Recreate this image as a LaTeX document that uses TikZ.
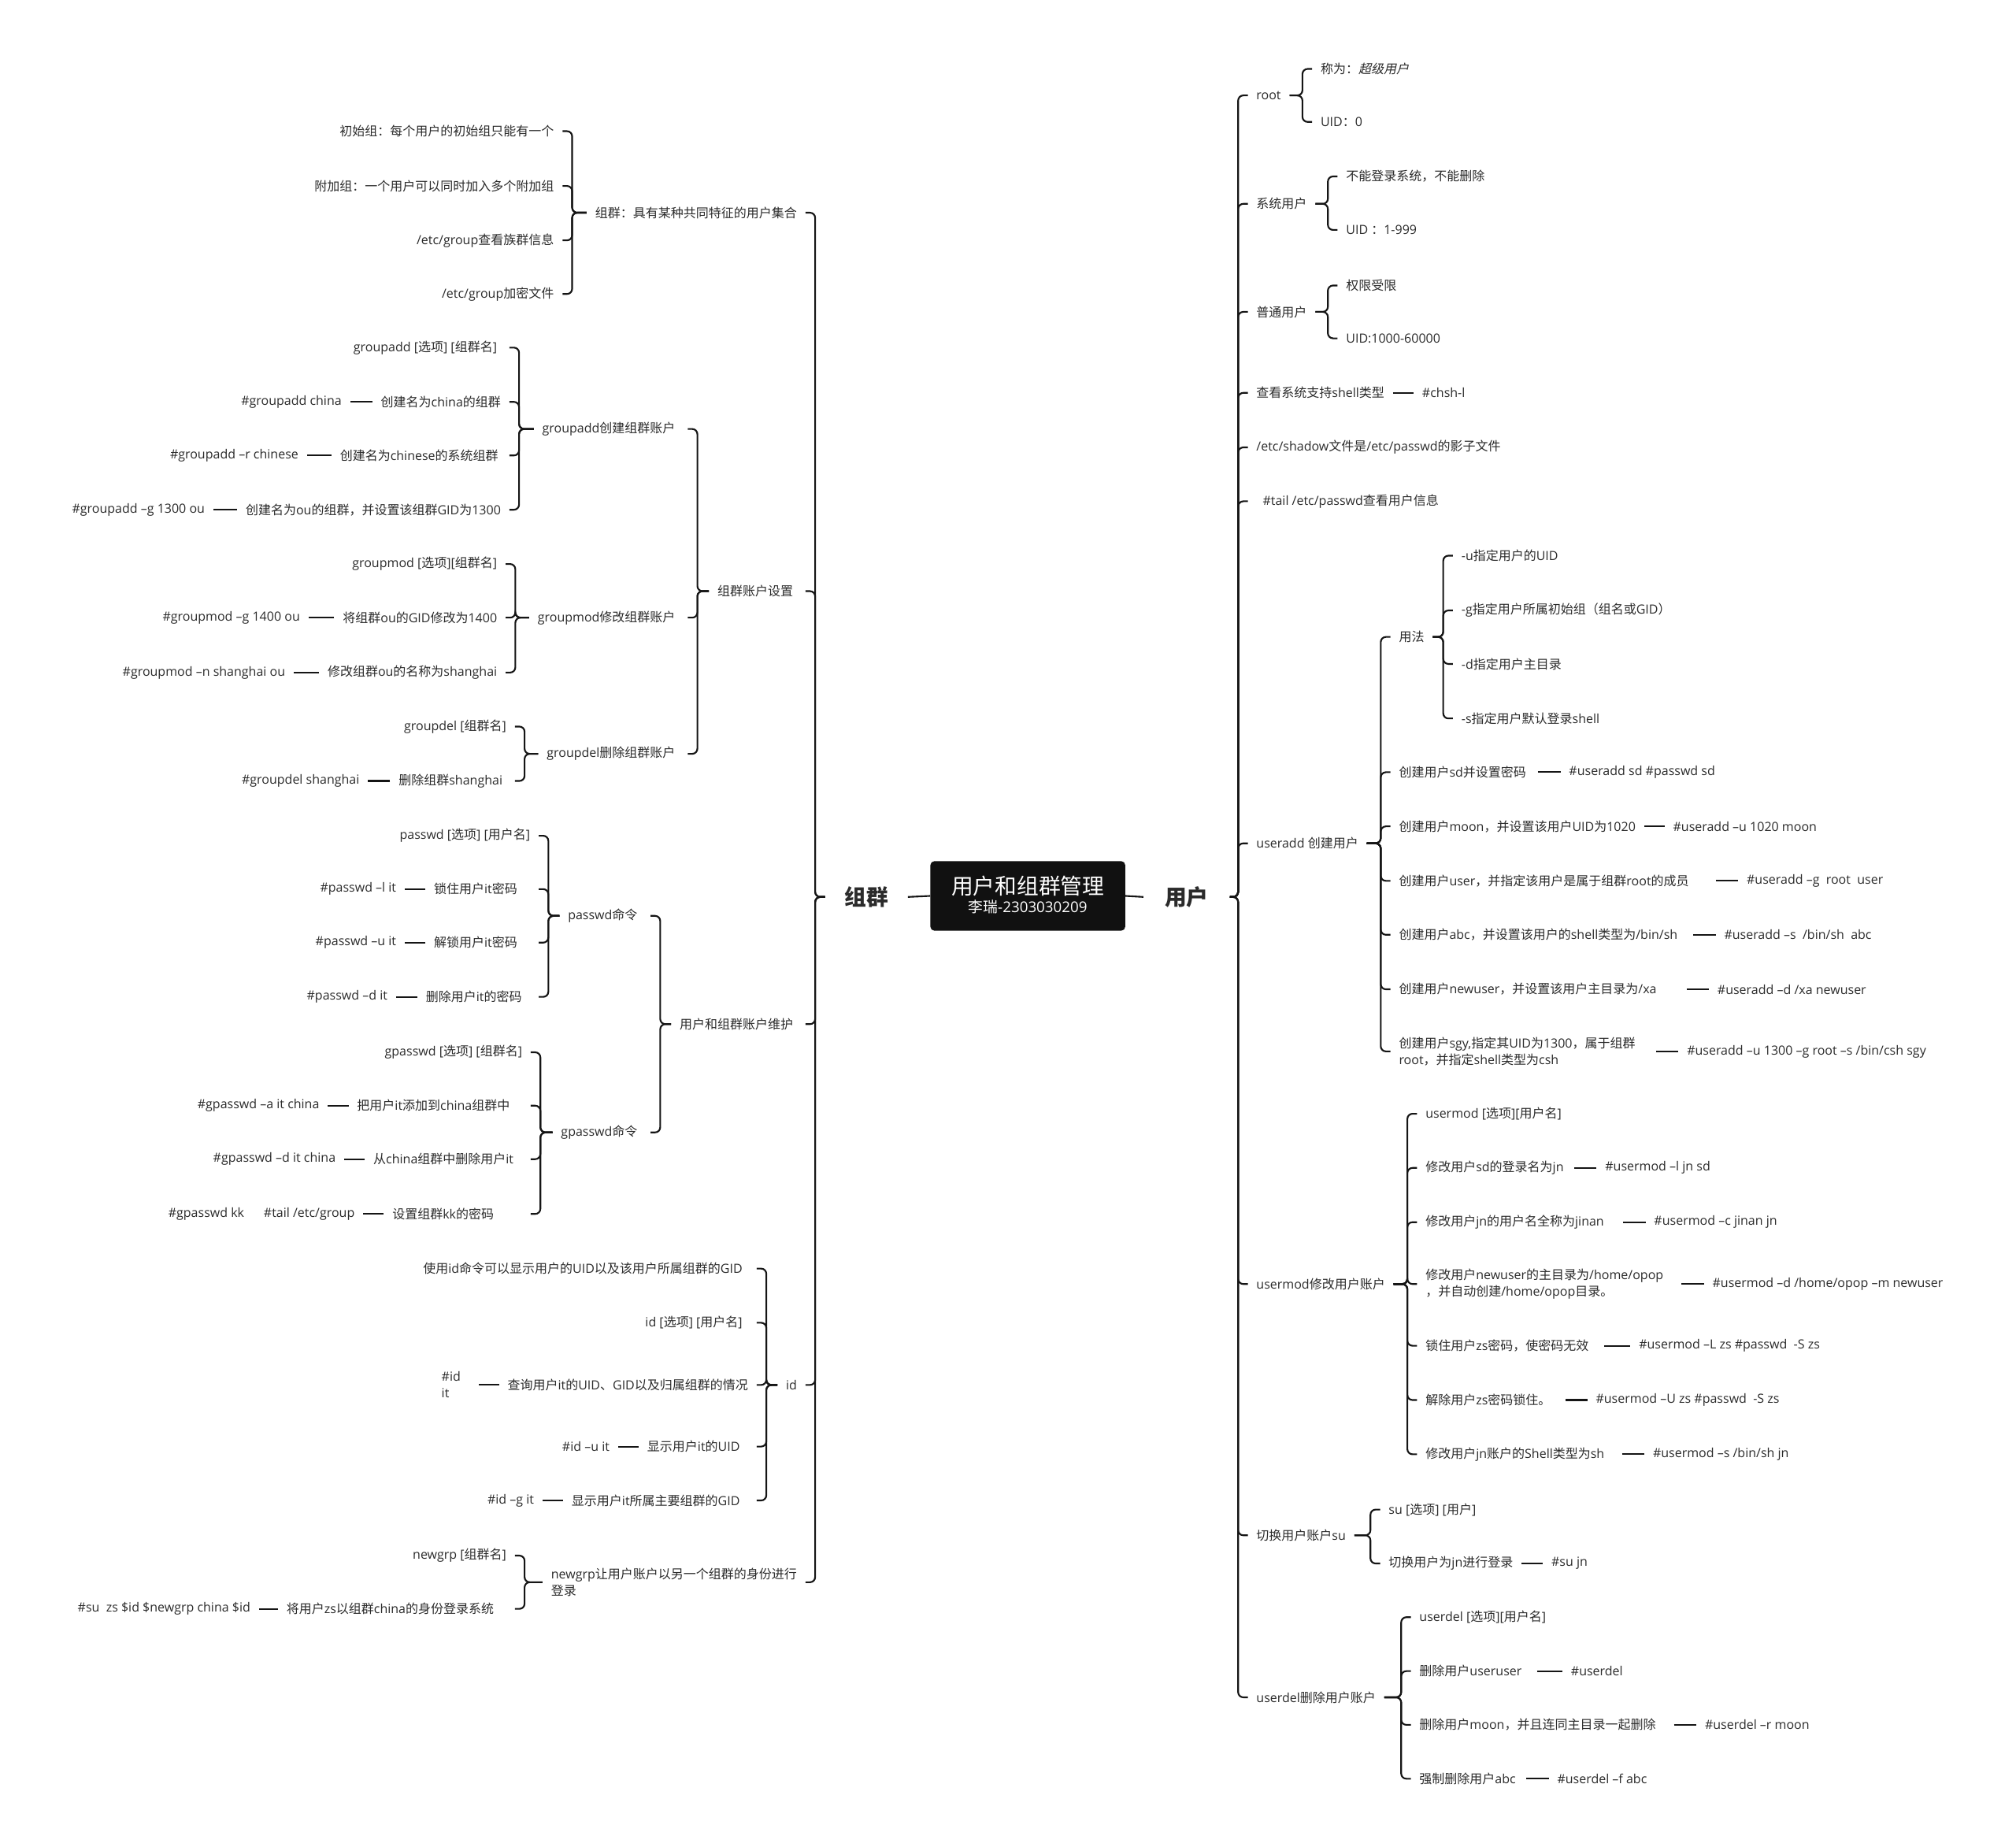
\documentclass[tikz,border=0pt]{standalone}
\usepackage{fontspec}
\setmainfont{Open Sans}
\newfontfamily\cjkfont{Noto Sans CJK SC}
\newfontfamily\cjkslantfont{Noto Sans CJK SC}[FakeSlant=0.22]
\newcommand\cjkhook{\cjkfont}
\newXeTeXintercharclass\CJKcls
\newcount\cjkcnt
\cjkcnt="2E80
\loop
  \XeTeXcharclass\cjkcnt=\CJKcls
  \advance\cjkcnt by 1
\ifnum\cjkcnt<"A000 \repeat
\cjkcnt="FF00
\loop
  \XeTeXcharclass\cjkcnt=\CJKcls
  \advance\cjkcnt by 1
\ifnum\cjkcnt<"FFF0 \repeat
\XeTeXinterchartoks 0 \CJKcls = {\cjkhook}
\XeTeXinterchartoks 4095 \CJKcls = {\cjkhook}
\XeTeXinterchartoks \CJKcls 0 = {\rmfamily}
\XeTeXinterchartoks \CJKcls 4095 = {\rmfamily}
\definecolor{tc}{HTML}{2B2B2B}
\definecolor{lc}{HTML}{151515}
\definecolor{boxc}{HTML}{111111}
\newcommand\fs{\fontsize{9.8pt}{12.9pt}\selectfont}
\newcommand\gap[1]{\kern#1pt\relax}
\XeTeXinterchartokenstate=1
\begin{document}
\begin{tikzpicture}[x=1pt,y=-1pt,
  txt/.style={inner xsep=6.5pt, inner ysep=1pt, font=\fs, text=tc},
  L/.style={txt, anchor=east},
  R/.style={txt, anchor=west},
  br/.style={draw=lc, line width=1.3pt, rounded corners=4pt},
  link/.style={draw=lc, line width=1.3pt},
  big/.style={font=\fontsize{17pt}{17pt}\selectfont\bfseries, text=tc, inner ysep=2pt}
]
\useasboundingbox (0,0) rectangle (1568,1436);
\fill[white] (0,0) rectangle (1568,1436);

% ---------- centre ----------
\node[fill=boxc, rounded corners=3pt, minimum width=151.5pt, minimum height=54pt, inner sep=0pt] (root) at (799.4,696.7) {};
\node[font=\fontsize{17pt}{17pt}\selectfont, text=white, inner sep=0pt] (title) at (799.4,689) {用户和组群管理};
\node[font=\fontsize{11.5pt}{11.5pt}\selectfont, text=white, inner sep=0pt] (sub) at (799.4,705.5) {李瑞-2303030209};
\node[big, inner xsep=15pt] (zu) at (673.9,697.5) {组群};
\node[big, inner xsep=16.5pt] (yh) at (923,697.5) {用户};
\draw[link] (zu.east) -- (root.west);
\draw[link] (root.east) -- (yh.west);

% ---------- trunk x positions ----------
\coordinate (tL) at (634,0);
\coordinate (tA) at (445,0);
\coordinate (tB) at (542.4,0);
\coordinate (tGA) at (403.7,0);
\coordinate (tGM) at (400.8,0);
\coordinate (tGD) at (408,0);
\coordinate (tC) at (513.5,0);
\coordinate (tPW) at (426.5,0);
\coordinate (tGP) at (420.3,0);
\coordinate (tID) at (596,0);
\coordinate (tNG) at (408,0);
\coordinate (tR) at (963,0);
\coordinate (tRO) at (1013,0);
\coordinate (tSY) at (1032.8,0);
\coordinate (tPT) at (1032.8,0);
\coordinate (tUA) at (1073.9,0);
\coordinate (tYF) at (1122.5,0);
\coordinate (tUM) at (1094.6,0);
\coordinate (tSU) at (1065.9,0);
\coordinate (tUD) at (1089.8,0);

% ================= LEFT =================
\node[L] (A) at (626.5,165.4) {组群：具有某种共同特征的用户集合};
\node[L] (B) at (626.5,459.7) {组群账户设置\gap{3}};
\node[L] (C) at (626.5,796.4) {用户和组群账户维护\gap{3}};
\node[L] (D) at (626.5,1077) {id};
\node[L, align=left] (E) at (626.5,1230.4) {newgrp让用户账户以另一个组群的身份进行\\登录};
\foreach \c in {A,B,C,D,E} \draw[br] (zu.west) -- (zu.west -| tL) |- (\c.east);

% A
\node[L] (a1) at (437.5,102) {初始组：每个用户的初始组只能有一个};
\node[L] (a2) at (437.5,144.6) {附加组：一个用户可以同时加入多个附加组};
\node[L] (a3) at (437.5,186.9) {/etc/group查看族群信息};
\node[L] (a4) at (437.5,228.6) {/etc/group加密文件};
\foreach \c in {a1,a2,a3,a4} \draw[br] (A.west) -- (A.west -| tA) |- (\c.east);

% B
\node[L] (b1) at (534.9,333.6) {groupadd创建组群账户\gap{3}};
\node[L] (b2) at (534.9,480.3) {groupmod修改组群账户\gap{3}};
\node[L] (b3) at (534.9,586.2) {groupdel删除组群账户\gap{3}};
\foreach \c in {b1,b2,b3} \draw[br] (B.west) -- (B.west -| tB) |- (\c.east);

% groupadd
\node[L] (ga1) at (396.2,270.3) {groupadd [选项] [组群名]\gap{3}};
\node[L] (ga2) at (396.2,312.5) {创建名为china的组群};
\node[L] (ga3) at (396.2,354.2) {创建名为chinese的系统组群\gap{2}};
\node[L] (ga4) at (396.2,396.4) {创建名为ou的组群，并设置该组群GID为1300};
\foreach \c in {ga1,ga2,ga3,ga4} \draw[br] (b1.west) -- (b1.west -| tGA) |- (\c.east);
\node[L] (ga2g) at ([xshift=-17.2pt]ga2.west) {\#groupadd china};
\node[L] (ga3g) at ([xshift=-19pt]ga3.west) {\#groupadd –r chinese};
\node[L] (ga4g) at ([xshift=-18.5pt]ga4.west) {\#groupadd –g 1300 ou};
\draw[link] (ga2.west) -- (ga2g.east);
\draw[link] (ga3.west) -- (ga3g.east);
\draw[link] (ga4.west) -- (ga4g.east);

% groupmod
\node[L] (gm1) at (393.3,438.6) {groupmod [选项][组群名]};
\node[L] (gm2) at (393.3,480.3) {将组群ou的GID修改为1400};
\node[L] (gm3) at (393.3,523) {修改组群ou的名称为shanghai};
\foreach \c in {gm1,gm2,gm3} \draw[br] (b2.west) -- (b2.west -| tGM) |- (\c.east);
\node[L] (gm2g) at ([xshift=-20pt]gm2.west) {\#groupmod –g 1400 ou};
\node[L] (gm3g) at ([xshift=-19.6pt]gm3.west) {\#groupmod –n shanghai ou};
\draw[link] (gm2.west) -- (gm2g.east);
\draw[link] (gm3.west) -- (gm3g.east);

% groupdel
\node[L] (gd1) at (400.5,565) {groupdel [组群名]};
\node[L] (gd2) at (400.5,607.3) {删除组群shanghai\gap{3}};
\foreach \c in {gd1,gd2} \draw[br] (b3.west) -- (b3.west -| tGD) |- (\c.east);
\node[L] (gd2g) at ([xshift=-17.2pt]gd2.west) {\#groupdel shanghai};
\draw[link] (gd2.west) -- (gd2g.east);

% C
\node[L] (c1) at (506,712.2) {passwd命令\gap{3.5}};
\node[L] (c2) at (506,880.6) {gpasswd命令\gap{3.5}};
\foreach \c in {c1,c2} \draw[br] (C.west) -- (C.west -| tC) |- (\c.east);

% passwd
\node[L] (pw1) at (419,649.9) {passwd [选项] [用户名]};
\node[L] (pw2) at (419,691.4) {锁住用户it密码\gap{10}};
\node[L] (pw3) at (419,733) {解锁用户it密码\gap{10}};
\node[L] (pw4) at (419,775.2) {删除用户it的密码\gap{6.5}};
\foreach \c in {pw1,pw2,pw3,pw4} \draw[br] (c1.west) -- (c1.west -| tPW) |- (\c.east);
\node[L] (pw2g) at ([xshift=-16pt]pw2.west) {\#passwd –l it};
\node[L] (pw3g) at ([xshift=-16pt]pw3.west) {\#passwd –u it};
\node[L] (pw4g) at ([xshift=-16.5pt]pw4.west) {\#passwd –d it};
\draw[link] (pw2.west) -- (pw2g.east);
\draw[link] (pw3.west) -- (pw3g.east);
\draw[link] (pw4.west) -- (pw4g.east);

% gpasswd
\node[L] (gp1) at (412.8,818.3) {gpasswd [选项] [组群名]};
\node[L] (gp2) at (412.8,859.8) {把用户it添加到china组群中\gap{9.6}};
\node[L] (gp3) at (412.8,901.4) {从china组群中删除用户it\gap{6.7}};
\node[L] (gp4) at (412.8,944) {设置组群kk的密码\gap{22}};
\foreach \c in {gp1,gp2,gp3,gp4} \draw[br] (c2.west) -- (c2.west -| tGP) |- (\c.east);
\node[L] (gp2g) at ([xshift=-16pt]gp2.west) {\#gpasswd –a it china};
\node[L] (gp3g) at ([xshift=-16pt]gp3.west) {\#gpasswd –d it china};
\node[L] (gp4g) at ([xshift=-16pt]gp4.west) {\#gpasswd kk\hspace{15.2pt}\#tail /etc/group};
\draw[link] (gp2.west) -- (gp2g.east);
\draw[link] (gp3.west) -- (gp3g.east);
\draw[link] (gp4.west) -- (gp4g.east);

% id
\node[L] (id1) at (588.5,986.5) {使用id命令可以显示用户的UID以及该用户所属组群的GID\gap{4.4}};
\node[L] (id2) at (588.5,1028.6) {id [选项] [用户名]\gap{4.4}};
\node[L] (id3) at (588.5,1077) {查询用户it的UID、GID以及归属组群的情况};
\node[L] (id4) at (588.5,1124.9) {显示用户it的UID\gap{6.4}};
\node[L] (id5) at (588.5,1166.8) {显示用户it所属主要组群的GID\gap{6.4}};
\foreach \c in {id1,id2,id3,id4,id5} \draw[br] (D.west) -- (D.west -| tID) |- (\c.east);
\node[txt, anchor=east, align=left, text width=22pt] (id3g) at ([xshift=-16pt]id3.west) {\#id\\it};
\node[L] (id4g) at ([xshift=-16pt]id4.west) {\#id –u it};
\node[L] (id5g) at ([xshift=-16pt]id5.west) {\#id –g it};
\draw[link] (id3.west) -- (id3g.east);
\draw[link] (id4.west) -- (id4g.east);
\draw[link] (id5.west) -- (id5g.east);

% newgrp
\node[L] (ng1) at (400.5,1209.7) {newgrp [组群名]};
\node[L] (ng2) at (400.5,1251.1) {将用户zs以组群china的身份登录系统\gap{9.7}};
\foreach \c in {ng1,ng2} \draw[br] (E.west) -- (E.west -| tNG) |- (\c.east);
\node[L] (ng2g) at ([xshift=-14.7pt]ng2.west) {\#su~~zs \$id \$newgrp china \$id};
\draw[link] (ng2.west) -- (ng2g.east);

% ================= RIGHT =================
\node[R] (r1) at (970.5,74.2) {root};
\node[R] (r2) at (970.5,158.5) {系统用户};
\node[R] (r3) at (970.5,242.5) {普通用户};
\node[R] (r4) at (970.5,305.5) {查看系统支持shell类型};
\node[R] (r5) at (970.5,347.9) {/etc/shadow文件是/etc/passwd的影子文件};
\node[R] (r6) at (970.5,389.8) {\gap{5}\#tail /etc/passwd查看用户信息};
\node[R] (r7) at (970.5,655.8) {useradd 创建用户};
\node[R] (r8) at (970.5,998.5) {usermod修改用户账户};
\node[R] (r9) at (970.5,1193.9) {切换用户账户su};
\node[R] (r10) at (970.5,1319.9) {userdel删除用户账户};
\foreach \c in {r1,r2,r3,r4,r5,r6,r7,r8,r9,r10} \draw[br] (yh.east) -- (yh.east -| tR) |- (\c.west);
\node[R] (r4g) at ([xshift=16pt]r4.east) {\#chsh-l};
\draw[link] (r4.east) -- (r4g.west);

% root
\node[R] (ro1) at (1020.5,53.6) {称为：{\renewcommand\cjkhook{\cjkslantfont}超级用户}};
\node[R] (ro2) at (1020.5,94.8) {UID：0};
\foreach \c in {ro1,ro2} \draw[br] (r1.east) -- (r1.east -| tRO) |- (\c.west);

% system users
\node[R] (sy1) at (1040.3,137.2) {不能登录系统，不能删除};
\node[R] (sy2) at (1040.3,178.8) {UID ：1-999};
\foreach \c in {sy1,sy2} \draw[br] (r2.east) -- (r2.east -| tSY) |- (\c.west);

% normal users
\node[R] (pt1) at (1040.3,222) {权限受限};
\node[R] (pt2) at (1040.3,263.1) {UID:1000-60000};
\foreach \c in {pt1,pt2} \draw[br] (r3.east) -- (r3.east -| tPT) |- (\c.west);

% useradd
\node[R] (ua1) at (1081.4,495.3) {用法};
\node[R] (ua2) at (1081.4,600.5) {创建用户sd并设置密码};
\node[R] (ua3) at (1081.4,642.6) {创建用户moon，并设置该用户UID为1020};
\node[R] (ua4) at (1081.4,685) {创建用户user，并指定该用户是属于组群root的成员};
\node[R] (ua5) at (1081.4,726.9) {创建用户abc，并设置该用户的shell类型为/bin/sh};
\node[R] (ua6) at (1081.4,769.3) {创建用户newuser，并设置该用户主目录为/xa};
\node[R, align=left] (ua7) at (1081.4,817.6) {创建用户sgy,指定其UID为1300，属于组群\\root，并指定shell类型为csh};
\foreach \c in {ua1,ua2,ua3,ua4,ua5,ua6,ua7} \draw[br] (r7.east) -- (r7.east -| tUA) |- (\c.west);
\node[R] (ua2g) at ([xshift=20pt]ua2.east) {\#useradd sd \#passwd sd};
\node[R] (ua3g) at ([xshift=15.8pt]ua3.east) {\#useradd –u 1020 moon};
\node[R] (ua4g) at ([xshift=31.6pt]ua4.east) {\#useradd –g~~root~~user};
\node[R] (ua5g) at ([xshift=22.9pt]ua5.east) {\#useradd –s~~/bin/sh~~abc};
\node[R] (ua6g) at ([xshift=34pt]ua6.east) {\#useradd –d /xa newuser};
\node[R] (ua7g) at ([xshift=26.8pt]ua7.east) {\#useradd –u 1300 –g root –s /bin/csh sgy};
\draw[link, shorten <=2.5pt] (ua2.east) -- (ua2g.west);
\draw[link] (ua3.east) -- (ua3g.west);
\draw[link, shorten <=14.2pt] (ua4.east) -- (ua4g.west);
\draw[link, shorten <=5.5pt] (ua5.east) -- (ua5g.west);
\draw[link, shorten <=16.7pt] (ua6.east) -- (ua6g.west);
\draw[link, shorten <=9.4pt] (ua7.east) -- (ua7g.west);

% usage
\node[R] (yf1) at (1130,432.1) {-u指定用户的UID};
\node[R] (yf2) at (1130,474.7) {-g指定用户所属初始组（组名或GID）};
\node[R] (yf3) at (1130,516.3) {-d指定用户主目录};
\node[R] (yf4) at (1130,558.7) {-s指定用户默认登录shell};
\foreach \c in {yf1,yf2,yf3,yf4} \draw[br] (ua1.east) -- (ua1.east -| tYF) |- (\c.west);

% usermod
\node[R] (um1) at (1102.1,866.1) {usermod [选项][用户名]};
\node[R] (um2) at (1102.1,908.2) {修改用户sd的登录名为jn};
\node[R] (um3) at (1102.1,950.4) {修改用户jn的用户名全称为jinan};
\node[R, align=left] (um4) at (1102.1,998.5) {修改用户newuser的主目录为/home/opop\\，并自动创建/home/opop目录。};
\node[R] (um5) at (1102.1,1046.5) {锁住用户zs密码，使密码无效};
\node[R] (um6) at (1102.1,1088.7) {解除用户zs密码锁住。};
\node[R] (um7) at (1102.1,1130.9) {修改用户jn账户的Shell类型为sh};
\foreach \c in {um1,um2,um3,um4,um5,um6,um7} \draw[br] (r8.east) -- (r8.east -| tUM) |- (\c.west);
\node[R] (um2g) at ([xshift=18.9pt]um2.east) {\#usermod –l jn sd};
\node[R] (um3g) at ([xshift=25.6pt]um3.east) {\#usermod –c jinan jn};
\node[R] (um4g) at ([xshift=24.8pt]um4.east) {\#usermod –d /home/opop –m newuser};
\node[R] (um5g) at ([xshift=25.7pt]um5.east) {\#usermod –L zs \#passwd~~-S zs};
\node[R] (um6g) at ([xshift=21.6pt]um6.east) {\#usermod –U zs \#passwd~~-S zs};
\node[R] (um7g) at ([xshift=24.4pt]um7.east) {\#usermod –s /bin/sh jn};
\draw[link, shorten <=1.5pt] (um2.east) -- (um2g.west);
\draw[link, shorten <=8.2pt] (um3.east) -- (um3g.west);
\draw[link, shorten <=7.4pt] (um4.east) -- (um4g.west);
\draw[link, shorten <=5.5pt] (um5.east) -- (um5g.west);
\draw[link, shorten <=4.6pt] (um6.east) -- (um6g.west);
\draw[link, shorten <=7pt] (um7.east) -- (um7g.west);

% su
\node[R] (su1) at (1073.4,1173.9) {su [选项] [用户]};
\node[R] (su2) at (1073.4,1215.8) {切换用户为jn进行登录};
\foreach \c in {su1,su2} \draw[br] (r9.east) -- (r9.east -| tSU) |- (\c.west);
\node[R] (su2g) at ([xshift=16.5pt]su2.east) {\#su jn};
\draw[link] (su2.east) -- (su2g.west);

% userdel
\node[R] (ud1) at (1097.3,1257.6) {userdel [选项][用户名]};
\node[R] (ud2) at (1097.3,1299.5) {删除用户useruser};
\node[R] (ud3) at (1097.3,1341.3) {删除用户moon，并且连同主目录一起删除};
\node[R] (ud4) at (1097.3,1383.2) {强制删除用户abc};
\foreach \c in {ud1,ud2,ud3,ud4} \draw[br] (r10.east) -- (r10.east -| tUD) |- (\c.west);
\node[R] (ud2g) at ([xshift=24.9pt]ud2.east) {\#userdel};
\node[R] (ud3g) at ([xshift=24.9pt]ud3.east) {\#userdel –r moon};
\node[R] (ud4g) at ([xshift=18.9pt]ud4.east) {\#userdel –f abc};
\draw[link, shorten <=5.1pt] (ud2.east) -- (ud2g.west);
\draw[link, shorten <=7.5pt] (ud3.east) -- (ud3g.west);
\draw[link, shorten <=1.5pt] (ud4.east) -- (ud4g.west);
\end{tikzpicture}
\end{document}
